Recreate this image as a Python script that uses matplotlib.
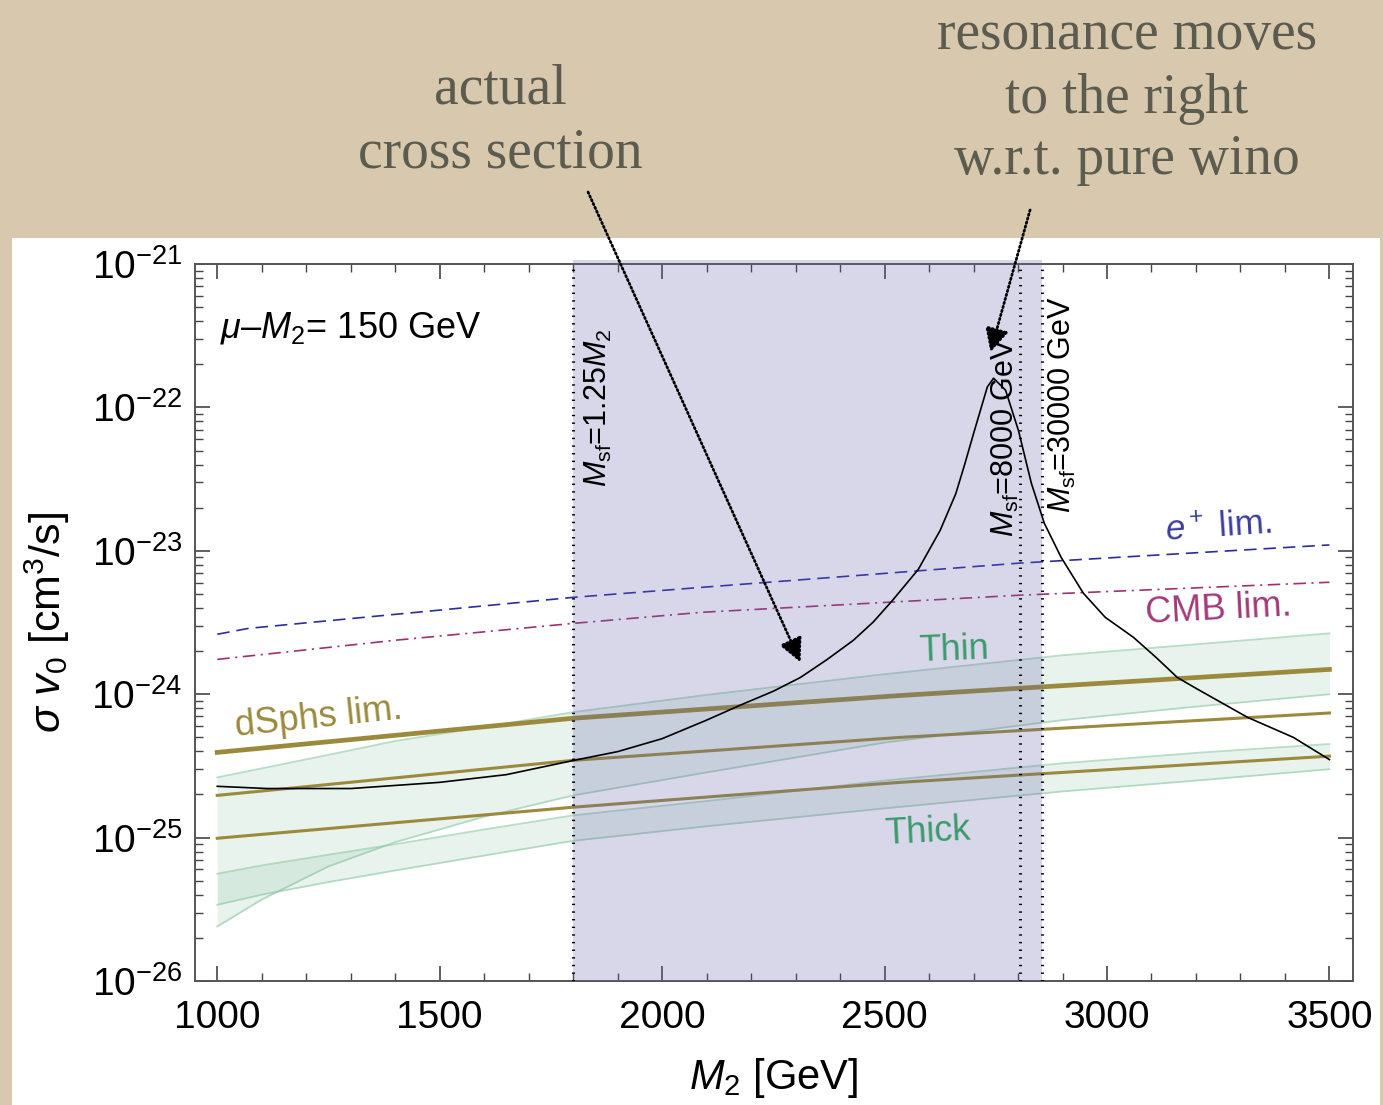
import numpy as np
import matplotlib
matplotlib.use("Agg")
import matplotlib.pyplot as plt
from matplotlib import ticker
from matplotlib.patches import Rectangle

plt.rcParams['font.family'] = ['Liberation Sans', 'DejaVu Sans']
plt.rcParams['mathtext.fontset'] = 'custom'
plt.rcParams['mathtext.rm'] = 'Liberation Sans'
plt.rcParams['mathtext.it'] = 'Liberation Sans:italic'
plt.rcParams['lines.scale_dashes'] = False

# sigma v0 for the mixed wino-higgsino (mu - M2 = 150 GeV)
m2_xs = [1000, 1112, 1300, 1500, 1650, 1800, 1900, 2000, 2100, 2176, 2250, 2311, 2370,
         2430, 2475, 2518, 2576, 2625, 2660, 2680, 2702, 2731, 2745, 2772, 2801,
         2830, 2859, 2897, 2947, 2996, 3059, 3110, 3158, 3200, 3239, 3316, 3419, 3500]
sv_xs = [2.28e-25, 2.2e-25, 2.2e-25, 2.43e-25, 2.75e-25, 3.45e-25, 3.98e-25, 4.9e-25,
         6.6e-25, 8.4e-25, 1.05e-24, 1.31e-24, 1.74e-24, 2.38e-24, 3.2e-24, 4.52e-24,
         7.44e-24, 1.39e-23, 2.5e-23, 4.0e-23, 6.9e-23, 1.39e-22, 1.6e-22, 1.32e-22,
         6.9e-23, 2.96e-23, 1.56e-23, 9.0e-24, 5.06e-24, 3.44e-24, 2.5e-24, 1.81e-24,
         1.31e-24, 1.1e-24, 9.4e-25, 6.9e-25, 5.0e-25, 3.5e-25]

# positron limit
m2_pos = [1000, 1070, 1800, 2100, 2800, 3500]
sv_pos = [2.62e-24, 2.88e-24, 4.74e-24, 5.6e-24, 8.2e-24, 1.1e-23]

# CMB limit
m2_cmb = [1000, 1400, 1800, 2090, 2800, 3500]
sv_cmb = [1.75e-24, 2.38e-24, 3.12e-24, 3.73e-24, 4.9e-24, 6.04e-24]

# dwarf spheroidal limits
m2_dsph = [1000, 1800, 2535, 3500]
sv_dsph_1 = [3.93e-25, 6.8e-25, 9.8e-25, 1.49e-24]
sv_dsph_2 = [1.97e-25, 3.46e-25, 5.0e-25, 7.4e-25]
sv_dsph_3 = [9.9e-26, 1.63e-25, 2.43e-25, 3.7e-25]

# thin / thick disk bands
m2_band = [1000, 1100, 1250, 1400, 1600, 1800, 2100, 2500, 2900, 3200, 3500]
thin_hi = [2.63e-25, 3.04e-25, 3.78e-25, 4.72e-25, 5.9e-25, 7.5e-25, 9.9e-25,
           1.38e-24, 1.87e-24, 2.23e-24, 2.66e-24]
thin_lo = [2.4e-26, 3.7e-26, 6.3e-26, 9.3e-26, 1.4e-25, 1.97e-25, 2.85e-25,
           4.6e-25, 6.6e-25, 8.2e-25, 1.0e-24]
thick_hi = [5.6e-26, 6.4e-26, 7.6e-26, 9.0e-26, 1.14e-25, 1.43e-25, 1.8e-25,
            2.5e-25, 3.3e-25, 3.9e-25, 4.5e-25]
thick_lo = [3.4e-26, 4.0e-26, 4.9e-26, 5.9e-26, 7.5e-26, 9.5e-26, 1.2e-25,
            1.6e-25, 2.1e-25, 2.5e-25, 3.0e-25]

# sfermion mass lines and excluded region
m_sf_lines = [1800, 2805, 2855]

y_major = [1e-26, 1e-25, 1e-24, 1e-23, 1e-22, 1e-21]

fig = plt.figure(figsize=(13.83, 11.05), dpi=100, facecolor='#d8c8ae')
fig.add_artist(Rectangle((0.0087, 0.0), 0.9891, 0.7846, transform=fig.transFigure,
                         facecolor='white', edgecolor='none', zorder=0))

ax = fig.add_axes([0.141, 0.1122, 0.837, 0.6488])
ax.set_yscale('log')
ax.set_xlim(950, 3552)
ax.set_ylim(1e-26, 1e-21)

band_col = (0.43, 0.71, 0.55)
edge_col = (0.55, 0.78, 0.64)
for lo, hi in [(thin_lo, thin_hi), (thick_lo, thick_hi)]:
    ax.fill_between(m2_band, lo, hi, color=band_col, alpha=0.15, lw=0, zorder=1)
    ax.plot(m2_band, lo, color=edge_col, lw=1.3, alpha=0.6, zorder=1)
    ax.plot(m2_band, hi, color=edge_col, lw=1.3, alpha=0.6, zorder=1)

olive = '#9b8a3c'
ax.plot(m2_dsph, sv_dsph_1, color=olive, lw=3.4, zorder=2)
ax.plot(m2_dsph, sv_dsph_2, color=olive, lw=2.2, zorder=2)
ax.plot(m2_dsph, sv_dsph_3, color=olive, lw=2.2, zorder=2)

ax.plot(m2_pos, sv_pos, color='#2c2ca0', lw=1.2, dashes=(9, 5), zorder=2)
ax.plot(m2_cmb, sv_cmb, color='#a03070', lw=1.2, dashes=(9, 4, 1.5, 4), zorder=2)

ax.axvspan(m_sf_lines[0], m_sf_lines[2], ymin=0, ymax=1.006, clip_on=False,
           facecolor=(0.39, 0.39, 0.67), alpha=0.25, lw=0, zorder=3)
for m in m_sf_lines:
    ax.axvline(m, color='k', lw=2.2, ls=(0, (1, 4.5)), zorder=4)

ax.plot(m2_xs, sv_xs, color='k', lw=1.2, zorder=4)

# labels inside the plot
ax.text(1007, 3.6e-22, r'$\mu$–$M_{\rm 2}$= 150 GeV', fontsize=26, va='center', ha='left', zorder=5)
ax.text(1857, 1e-22, r'$M_{\rm sf}$=1.25$M_{\rm 2}$', fontsize=22, rotation=90,
        ha='center', va='center', zorder=5)
ax.text(2772, 6.2e-23, r'$M_{\rm sf}$=8000 GeV', fontsize=22, rotation=90,
        ha='center', va='center', zorder=5)
ax.text(2900, 1.05e-22, r'$M_{\rm sf}$=30000 GeV', fontsize=22, rotation=90,
        ha='center', va='center', zorder=5)
ax.text(3250, 1.44e-23, r'$e^{\rm +}$ lim.', fontsize=25, color='#3c3ca0', rotation=4,
        ha='center', va='center', zorder=5)
ax.text(3250, 3.86e-24, 'CMB lim.', fontsize=26, color='#a23a78', rotation=3,
        ha='center', va='center', zorder=5)
ax.text(2655, 2.02e-24, 'Thin', fontsize=26, color='#3a9a6a', rotation=2,
        ha='center', va='center', zorder=5)
ax.text(2598, 1.09e-25, 'Thick', fontsize=26, color='#3a9a6a', rotation=3,
        ha='center', va='center', zorder=5)
ax.text(1227, 6.8e-25, 'dSphs lim.', fontsize=26, color=olive, rotation=6,
        ha='center', va='center', zorder=5)

ax.xaxis.set_major_locator(ticker.MultipleLocator(500))
ax.xaxis.set_minor_locator(ticker.MultipleLocator(100))
ax.yaxis.set_major_locator(ticker.FixedLocator(y_major))
ax.yaxis.set_major_formatter(ticker.LogFormatterSciNotation())
y_minor = [k * d for d in y_major[:-1] for k in range(2, 10)]
ax.yaxis.set_minor_locator(ticker.FixedLocator(y_minor))
ax.yaxis.set_minor_formatter(ticker.NullFormatter())
ax.tick_params(which='both', direction='in', top=True, right=True, colors='#444444',
               labelcolor='black', labelsize=28)
ax.tick_params(which='major', length=11, width=1.2)
ax.tick_params(which='minor', length=6, width=1.0)
ax.tick_params(axis='x', which='major', pad=14)
ax.tick_params(axis='y', which='major', pad=9)
for s in ax.spines.values():
    s.set_color('#555555')
    s.set_linewidth(1.4)

ax.set_xlabel(r'$M_{\rm 2}$ [GeV]', fontsize=30, labelpad=14)
ax.set_ylabel(r'$\sigma\ v_{\rm 0}$ [cm$^{\rm 3}$/s]', fontsize=31, labelpad=14)

# slide captions with dotted arrows
cap = dict(fontsize=40, color='#5c5b4f', family=['Liberation Serif', 'DejaVu Serif'],
           ha='center', va='center')
fig.text(500 / 1383, 1 - 90 / 1105, 'actual', **cap)
fig.text(500 / 1383, 1 - 154 / 1105, 'cross section', **cap)
fig.text(1127 / 1383, 1 - 35 / 1105, 'resonance moves', **cap)
fig.text(1127 / 1383, 1 - 99 / 1105, 'to the right', **cap)
fig.text(1127 / 1383, 1 - 160 / 1105, 'w.r.t. pure wino', **cap)

arrow = dict(arrowstyle='-|>', color='k', lw=2, linestyle=(0, (1, 2)),
             mutation_scale=36, shrinkA=0, shrinkB=0)
ax.annotate('', xy=(2311, 1.67e-24), xytext=(0.4252, 0.8262),
            textcoords='figure fraction', arrowprops=arrow, annotation_clip=False, zorder=6)
ax.annotate('', xy=(2738, 2.43e-22), xytext=(0.7448, 0.81),
            textcoords='figure fraction', arrowprops=arrow, annotation_clip=False, zorder=6)

fig.savefig('out.png', dpi=100, facecolor=fig.get_facecolor())
